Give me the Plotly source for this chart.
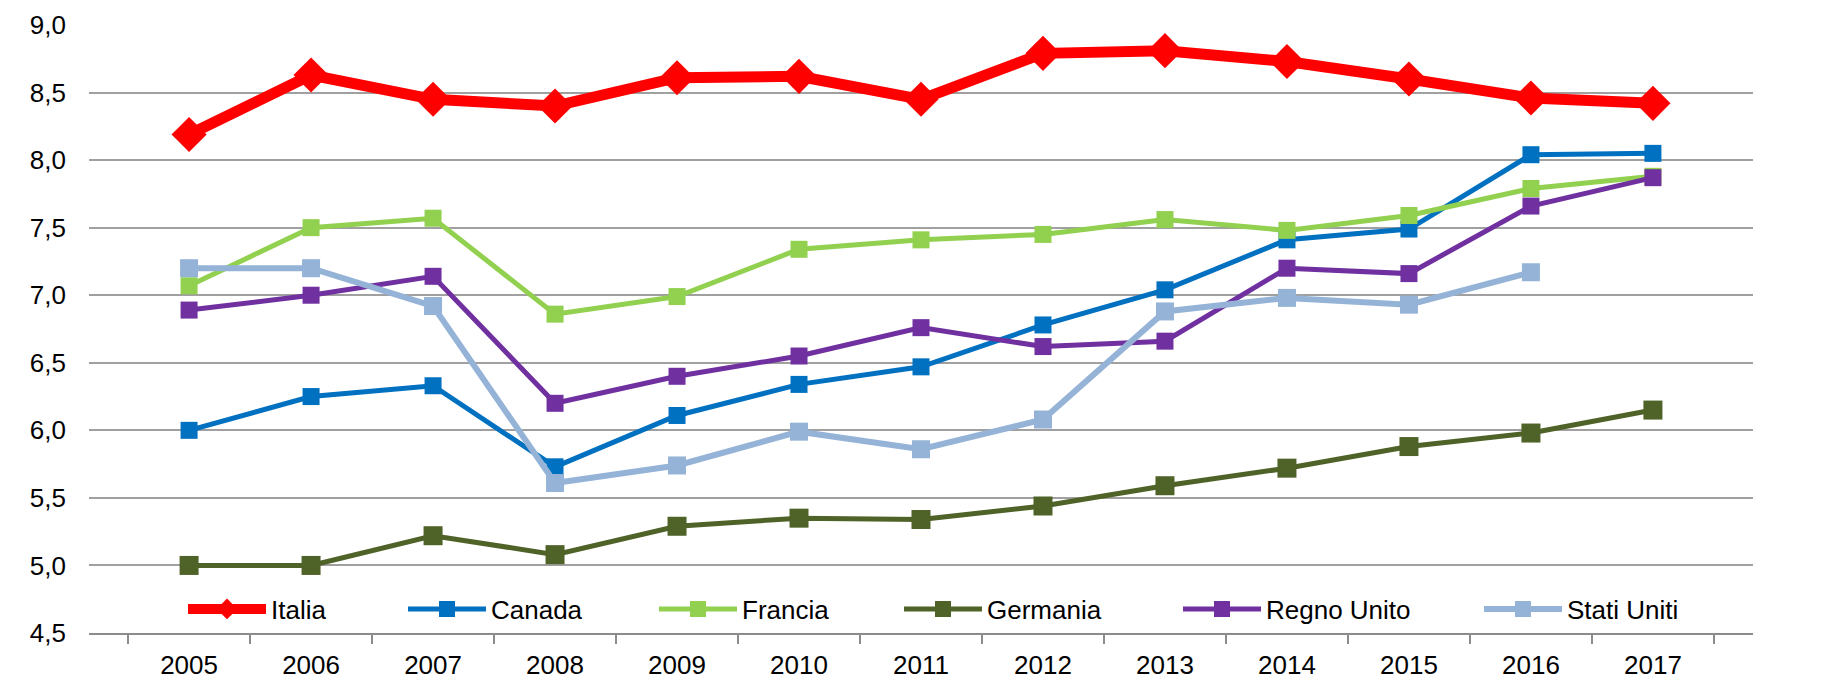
import plotly.graph_objects as go

years = ["2005", "2006", "2007", "2008", "2009", "2010", "2011", "2012", "2013", "2014", "2015", "2016", "2017"]

italia = [8.19, 8.63, 8.45, 8.40, 8.61, 8.62, 8.45, 8.79, 8.81, 8.73, 8.60, 8.46, 8.42]
canada = [6.00, 6.25, 6.33, 5.73, 6.11, 6.34, 6.47, 6.78, 7.04, 7.41, 7.49, 8.04, 8.05]
francia = [7.07, 7.50, 7.57, 6.86, 6.99, 7.34, 7.41, 7.45, 7.56, 7.48, 7.59, 7.79, 7.88]
germania = [5.00, 5.00, 5.22, 5.08, 5.29, 5.35, 5.34, 5.44, 5.59, 5.72, 5.88, 5.98, 6.15]
regno_unito = [6.89, 7.00, 7.14, 6.20, 6.40, 6.55, 6.76, 6.62, 6.66, 7.20, 7.16, 7.66, 7.87]
stati_uniti = [7.20, 7.20, 6.92, 5.61, 5.74, 5.99, 5.86, 6.08, 6.88, 6.98, 6.93, 7.17, None]

y_ticks = [4.5, 5.0, 5.5, 6.0, 6.5, 7.0, 7.5, 8.0, 8.5, 9.0]

series = [
    ("Italia", italia, "#FF0000", 11, "diamond", 27),
    ("Canada", canada, "#0070C0", 5, "square", 17),
    ("Francia", francia, "#92D050", 5, "square", 17),
    ("Germania", germania, "#4F6228", 5, "square", 19),
    ("Regno Unito", regno_unito, "#7030A0", 5, "square", 17),
    ("Stati Uniti", stati_uniti, "#95B3D7", 6, "square", 18),
]

FONT = "Liberation Sans, Arial, sans-serif"

W, H = 1825, 681
L, R, T, B = 81, 80, 17, 56
pw = W - L - R
ph = H - T - B
legend_px = [180, 400, 651, 896, 1175, 1476]
legend_y = (H - B - 601) / ph

fig = go.Figure()
layout_legends = {}
for i, (name, vals, col, lw, sym, ms) in enumerate(series):
    lg = "legend" if i == 0 else f"legend{i+1}"
    fig.add_trace(go.Scatter(
        x=years, y=vals, name=name, mode="lines+markers",
        line=dict(color=col, width=lw),
        marker=dict(symbol=sym, size=ms, color=col),
        cliponaxis=False, legend=lg,
    ))
    layout_legends[lg] = dict(
        x=(legend_px[i] - L - 5) / pw, xanchor="left",
        y=legend_y, yanchor="middle",
        bgcolor="rgba(0,0,0,0)", itemwidth=78,
        font=dict(size=26, color="#000000", family=FONT),
    )

fig.update_layout(
    width=W, height=H,
    margin=dict(l=L, r=R, t=T, b=B, autoexpand=False),
    paper_bgcolor="white", plot_bgcolor="white",
    separators=",.",
    showlegend=True,
    font=dict(family=FONT, size=26, color="#000000"),
    xaxis=dict(
        type="category", categoryorder="array", categoryarray=years,
        tickson="boundaries", ticks="outside", ticklen=9, tickwidth=2, tickcolor="#8C8C8C",
        showline=True, linecolor="#8C8C8C", linewidth=2, automargin=False,
        showgrid=False, ticklabelstandoff=8,
        tickfont=dict(size=26),
    ),
    yaxis=dict(
        range=[4.5, 9.0], tickvals=y_ticks, tickformat=".1f", automargin=False,
        showgrid=True, gridcolor="#A0A0A0", gridwidth=2,
        zeroline=False, showline=False, ticks="",
        ticklabelstandoff=22, tickfont=dict(size=26),
    ),
    yaxis2=dict(
        range=[4.5, 9.0], tickvals=y_ticks, tickformat=".1f", automargin=False,
        overlaying="y", side="right", showgrid=False, zeroline=False,
        showline=False, ticks="", ticklabelstandoff=24, tickfont=dict(size=26),
    ),
    **layout_legends,
)

fig.write_html("out.html")
